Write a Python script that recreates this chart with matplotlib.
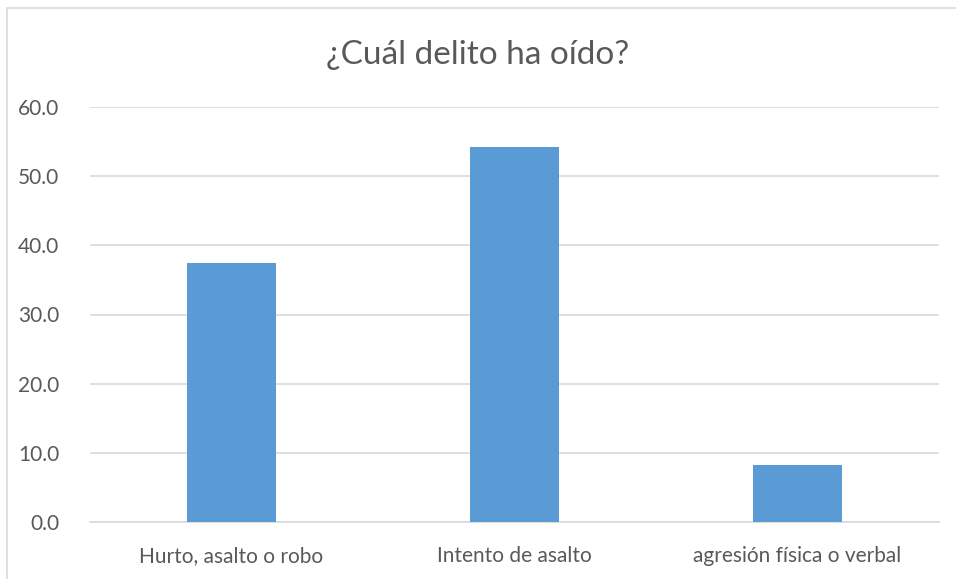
import matplotlib
matplotlib.use("Agg")
import matplotlib.pyplot as plt
from matplotlib.patches import Rectangle

categorias = ["Hurto, asalto o robo", "Intento de asalto", "agresión física o verbal"]
valores = [37.5, 54.2, 8.3]
yticks = [0, 10, 20, 30, 40, 50, 60]

plt.rcParams["font.family"] = ["Lato", "DejaVu Sans"]
GRIS = "#595959"

fig = plt.figure(figsize=(9.56, 5.79), dpi=100)
fig.patch.set_facecolor("white")
# marco exterior del gráfico (recortado a la derecha y abajo)
fig.add_artist(Rectangle((7 / 956, -0.05), 1.2, (1 - 8 / 579) + 0.05,
                         transform=fig.transFigure, fill=False,
                         edgecolor="#D9D9D9", lw=1.2))

ax = fig.add_axes([90 / 956, 1 - 522 / 579, 849 / 956, 415 / 579])
x = range(len(categorias))
ax.bar(x, valores, width=0.315, color="#5B9BD5", zorder=3)
ax.set_xlim(-0.5, 2.5)
ax.set_ylim(0, 60)
ax.set_yticks(yticks)
ax.set_yticklabels([f"{v:.1f}" for v in yticks])
ax.set_xticks(list(x))
ax.set_xticklabels(categorias)
ax.grid(axis="y", color="#D9D9D9", lw=1.2, zorder=0)
for s in ["top", "right", "left"]:
    ax.spines[s].set_visible(False)
ax.spines["bottom"].set_color("#D9D9D9")
ax.spines["bottom"].set_linewidth(1.2)
ax.tick_params(axis="both", length=0, labelsize=15, colors=GRIS)
ax.tick_params(axis="x", pad=17)
ax.tick_params(axis="y", pad=22)

fig.text(0.5, 1 - 55 / 579, "¿Cuál delito ha oído?", ha="center", va="center",
         fontsize=24, color=GRIS)

fig.savefig("out.png", dpi=100, facecolor="white")
